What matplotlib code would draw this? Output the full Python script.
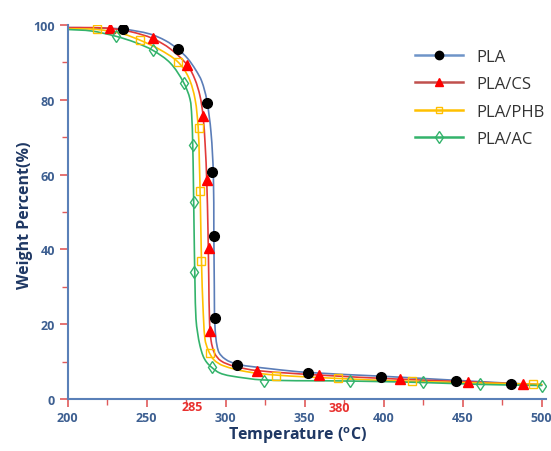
import numpy as np
import matplotlib
matplotlib.use("Agg")
import matplotlib.pyplot as plt
from matplotlib.path import Path
from matplotlib.patches import PathPatch
from matplotlib.ticker import MultipleLocator

plt.rcParams['font.family'] = ['Open Sans', 'DejaVu Sans']
plt.rcParams['mathtext.fontset'] = 'custom'
plt.rcParams['mathtext.rm'] = 'Open Sans'
plt.rcParams['mathtext.bf'] = 'Open Sans:bold'

# ---------------- data ----------------
series_names = ["PLA", "PLA/CS", "PLA/PHB", "PLA/AC"]

# smooth curve points
pla_T = [200, 215, 235, 252, 262, 269.6, 276, 281, 284.8, 288, 290.7, 292.2, 292.5, 292.8, 293.2,
         295.3, 299.6, 307.3, 328, 351.9, 398.5, 445.6, 480.4, 500]
pla_W = [99.3, 99.2, 98.9, 97.6, 95.8, 93.6, 91.0, 88.0, 85.0, 80.0, 71.3, 60.0, 45.0, 30.0, 19.5,
         12.9, 10.7, 9.3, 8.1, 7.1, 6.1, 5.0, 4.2, 3.8]
cs_T = [200, 215, 226.6, 240, 253.8, 265, 275.7, 280.5, 283.7, 285.6, 287.0, 288.0, 288.8, 289.3,
        289.8, 290.8, 293.0, 297.0, 305.0, 319.8, 359.2, 410.3, 453.2, 488.2, 500]
cs_W = [99.3, 99.3, 99.1, 98.2, 96.4, 93.6, 89.3, 85.5, 81.1, 76.0, 68.0, 58.5, 45.0, 32.0,
        20.5, 15.5, 12.2, 10.2, 8.8, 7.6, 6.4, 5.3, 4.6, 4.0, 3.8]
phb_T = [200, 218.5, 235, 246, 258, 269.6, 276.5, 280.6, 282.6, 283.3, 283.8, 284.3, 284.8, 285.6,
         286.9, 289.0, 292.5, 298.5, 313.3, 331.8, 370.9, 418.1, 494.7, 500]
phb_W = [99.0, 98.8, 97.6, 95.9, 93.5, 90.2, 86.0, 80.2, 72.5, 64.0, 55.5, 45.0, 35.0, 25.0,
         16.0, 13.0, 10.5, 8.9, 7.3, 6.4, 5.5, 4.7, 4.0, 3.9]
ac_T = [200, 215, 230.4, 243, 254, 265, 273.4, 277.4, 278.5, 279.1, 279.5, 280.0, 280.6, 281.2,
        282.3, 283.7, 285.7, 288, 291.3, 296, 302.7, 323.8, 378.7, 425.2, 461.1, 500]
ac_W = [98.8, 98.4, 97.0, 95.3, 93.2, 89.8, 84.6, 80.2, 75.8, 68.6, 60.0, 45.0, 30.0, 21.4,
        17.5, 14.3, 11.5, 9.8, 8.4, 7.0, 6.2, 5.1, 4.8, 4.4, 3.9, 3.6]

# marker points
pla_mT = [235, 269.6, 288.2, 291.5, 292.8, 293.2, 307.3, 351.9, 398.5, 445.6, 480.4]
pla_mW = [98.9, 93.5, 79.2, 60.6, 43.7, 21.7, 9.1, 7.0, 6.0, 4.9, 4.1]
cs_mT = [226.6, 253.8, 275.7, 285.6, 288.4, 289.2, 290.3, 319.8, 359.2, 410.3, 453.2, 488.2]
cs_mW = [99.2, 96.4, 89.3, 75.8, 58.5, 40.3, 18.3, 7.6, 6.4, 5.3, 4.6, 4.0]
phb_mT = [218.5, 246, 269.6, 282.9, 283.9, 284.2, 289.9, 331.8, 370.9, 418.1, 494.7]
phb_mW = [98.8, 95.9, 90.2, 72.5, 55.5, 36.9, 12.3, 6.2, 5.5, 4.7, 4.0]
ac_mT = [230.4, 254, 273.4, 279.5, 279.7, 280.1, 291.3, 324.1, 378.7, 425.2, 461.1, 500.2]
ac_mW = [97.0, 93.2, 84.6, 67.8, 52.7, 33.9, 8.6, 4.9, 4.9, 4.5, 3.9, 3.6]

annot_labels = ["285", "380"]
annot_T = [279.1, 371.7]
annot_W = [-2.1, -2.4]

x_ticks = [200, 250, 300, 350, 400, 450, 500]
y_ticks = [0, 20, 40, 60, 80, 100]

# ---------------- styling ----------------
line_colors = ["#5b7db8", "#e23a3a", "#ffc000", "#33b36b"]
legend_line_colors = ["#6e94c8", "#c0504d", "#ffc000", "#33b36b"]
tick_label_color = "#3d5f91"
axis_label_color = "#1f3864"
spine_color = "#5a80b8"
tick_color = "#e05a5a"

fig = plt.figure(figsize=(5.51, 4.52), dpi=100)
ax = fig.add_axes([67.7 / 551, 1 - 400 / 452, (546.4 - 67.7) / 551, (400 - 26) / 452])
ax.set_xlim(200, 503)
ax.set_ylim(0, 100)

sx, sy = 1.58, 3.74  # approx px per data unit, for smoothing geometry


def smooth_curve(ax, xs, ys, color, lw):
    P = np.column_stack([np.asarray(xs, float) * sx, np.asarray(ys, float) * sy])
    n = len(P)
    verts = [P[0]]
    codes = [Path.MOVETO]
    k = 0.33
    for i in range(n - 1):
        p0, p1 = P[i], P[i + 1]
        d0 = (P[i + 1] - P[i - 1]) if i > 0 else (P[1] - P[0])
        d1 = (P[i + 2] - P[i]) if i + 2 < n else (P[i + 1] - P[i])
        L = np.linalg.norm(p1 - p0)
        c1 = p0 + d0 / np.linalg.norm(d0) * L * k
        c2 = p1 - d1 / np.linalg.norm(d1) * L * k
        verts += [c1, c2, p1]
        codes += [Path.CURVE4] * 3
    V = np.array(verts)
    V[:, 0] /= sx
    V[:, 1] /= sy
    patch = PathPatch(Path(V, codes), facecolor='none', edgecolor=color, lw=lw,
                      capstyle='round', joinstyle='round', zorder=2)
    ax.add_patch(patch)


lines = [(pla_T, pla_W), (cs_T, cs_W), (phb_T, phb_W), (ac_T, ac_W)]
marks = [(pla_mT, pla_mW), (cs_mT, cs_mW), (phb_mT, phb_mW), (ac_mT, ac_mW)]
mstyles = [
    dict(marker='o', markersize=7, markerfacecolor='black', markeredgecolor='black'),
    dict(marker='^', markersize=7, markerfacecolor='#ff0000', markeredgecolor='#ff0000'),
    dict(marker='s', markersize=6, markerfacecolor='none', markeredgecolor='#ffc000', markeredgewidth=1.0),
    dict(marker='d', markersize=6.5, markerfacecolor='none', markeredgecolor='#33b36b', markeredgewidth=1.0),
]
leg_msizes = [6, 6, 5, 6]

handles = []
for (lt, lw_), (mt, mw), c, lc, ms, lms in zip(lines, marks, line_colors, legend_line_colors,
                                                mstyles, leg_msizes):
    smooth_curve(ax, lt, lw_, c, 1.2)
    ax.plot(mt, mw, linestyle='none', zorder=3, **ms)
    hs = dict(ms)
    hs['markersize'] = lms
    h, = ax.plot([], [], color=lc, lw=1.8, **hs)
    handles.append(h)

leg = ax.legend(handles, series_names, loc='upper left', bbox_to_anchor=(0.7255, 0.936),
                frameon=False, borderpad=0, borderaxespad=0, handlelength=2.9,
                handletextpad=0.78, labelspacing=0.68,
                prop={'family': 'Open Sans', 'size': 12})
for t in leg.get_texts():
    t.set_color('#333333')

# spines
for s in ['top', 'right']:
    ax.spines[s].set_visible(False)
for s in ['left', 'bottom']:
    ax.spines[s].set_color(spine_color)
    ax.spines[s].set_linewidth(1.5)

ax.set_xticks(x_ticks)
ax.set_yticks(y_ticks)
ax.xaxis.set_minor_locator(MultipleLocator(25))
ax.yaxis.set_minor_locator(MultipleLocator(10))
ax.tick_params(axis='x', which='major', direction='out', length=6, width=1.2, color=tick_color,
               labelcolor=tick_label_color, labelsize=9, pad=2.5)
ax.tick_params(axis='x', which='minor', direction='out', length=4, width=1.0, color=tick_color)
ax.tick_params(axis='y', which='major', direction='out', length=6, width=1.2, color=tick_color,
               labelcolor=tick_label_color, labelsize=9, pad=3)
ax.tick_params(axis='y', which='minor', direction='out', length=4, width=1.0, color=tick_color)
for lab in ax.get_xticklabels() + ax.get_yticklabels():
    lab.set_fontweight('bold')
ax.xaxis.get_major_ticks()[0].tick1line.set_color(spine_color)

ax.set_xlabel(r'Temperature ($\mathbf{^{o}}$C)', fontsize=11.5, fontweight='bold', color=axis_label_color)
ax.xaxis.set_label_coords(0.481, -0.095)
ax.xaxis.label.set_va('center')
ax.set_ylabel('Weight Percent(%)', fontsize=11.5, fontweight='bold', color=axis_label_color)
ax.yaxis.set_label_coords(-0.09, 0.495)
ax.yaxis.label.set_va('center')

for txt, t, w in zip(annot_labels, annot_T, annot_W):
    ax.text(t, w, txt, ha='center', va='center', color='#e8312f', fontsize=9,
            fontweight='bold', clip_on=False)

fig.savefig('out.png', dpi=100)
